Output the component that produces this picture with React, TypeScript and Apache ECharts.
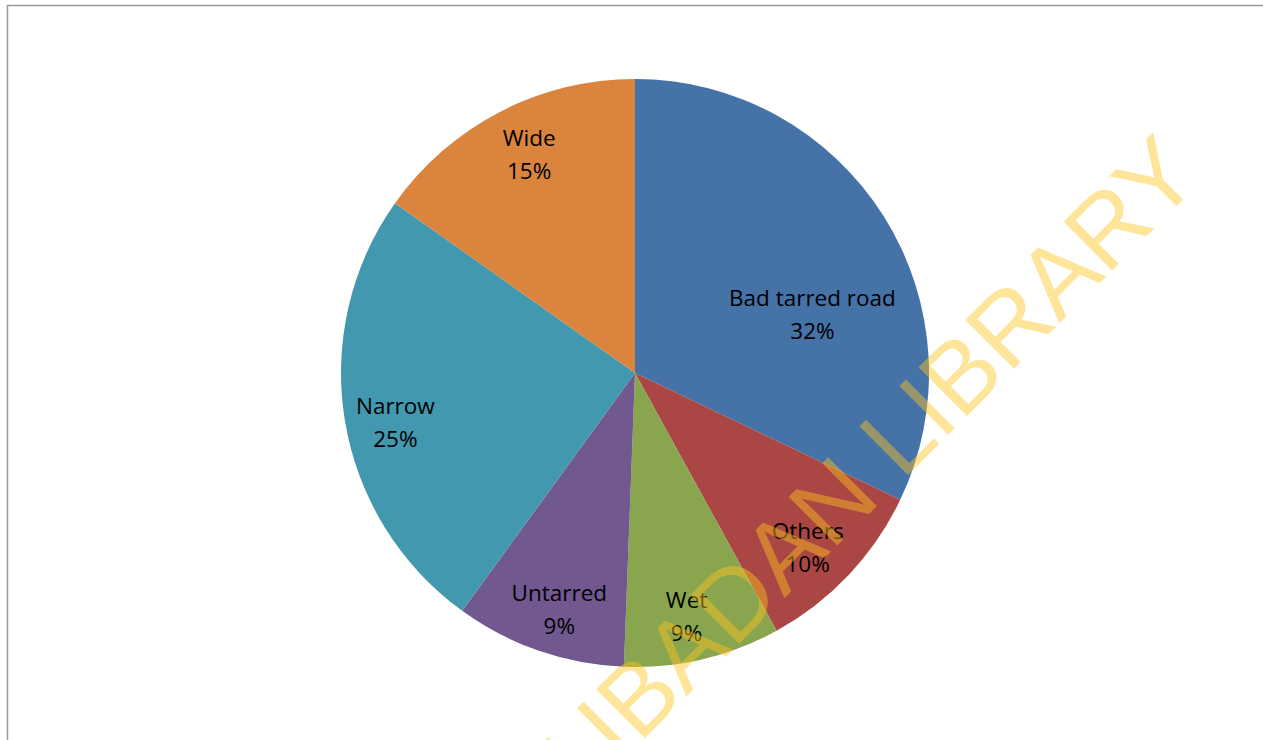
import React, { useEffect, useRef } from "react";
import * as echarts from "echarts";

const categories = ["Bad tarred road", "Others", "Wet", "Untarred", "Narrow", "Wide"];
const values = [32.1, 9.9, 8.6, 9.4, 24.8, 15.2];
const colors = ["#4572A7", "#AA4643", "#89A54E", "#71588F", "#4198AF", "#DB843D"];
const watermark = "UNIVERSITY OF IBADAN LIBRARY";

export default function App() {
  const ref = useRef<HTMLDivElement>(null);
  useEffect(() => {
    if (!ref.current) return;
    const chart = echarts.init(ref.current, null, { renderer: "svg" });
    const R = 294;
    const center = [635, 373];
    const labelOffsets: Record<string, number[]> = {
      "Bad tarred road": [-34, 74],
      Others: [-9, 2],
      Wet: [-6, 0],
      Untarred: [6, 0],
      Narrow: [7, 8],
      Wide: [9, 3],
    };
    chart.setOption({
      animation: false,
      backgroundColor: "#ffffff",
      graphic: [
        {
          type: "rect",
          left: 5,
          top: 3,
          shape: { width: 1300, height: 800 },
          style: { fill: "none", stroke: "#9a9a9a", lineWidth: 1.5 },
          z: 0,
        },
        {
          type: "text",
          x: 1214,
          y: 190,
          rotation: Math.PI / 4,
          z: 100,
          silent: true,
          style: {
            text: watermark,
            x: 0,
            y: 0,
            align: "right",
            verticalAlign: "bottom",
            fontFamily: "Liberation Sans",
            fontSize: 100,
            fill: "rgba(255,198,30,0.45)",
          },
        },
      ],
      series: [
        {
          type: "pie",
          center,
          radius: [0, R],
          startAngle: 90,
          clockwise: true,
          silent: true,
          label: { show: false },
          labelLine: { show: false },
          data: categories.map((name, i) => ({
            name,
            value: values[i],
            itemStyle: { color: colors[i] },
          })),
        },
        {
          type: "pie",
          center,
          radius: [R * 0.68, R],
          startAngle: 90,
          clockwise: true,
          silent: true,
          z: 3,
          itemStyle: { color: "rgba(0,0,0,0)", borderWidth: 0 },
          labelLine: { show: false },
          label: {
            show: true,
            position: "inside",
            color: "#000000",
            fontFamily: "Open Sans",
            fontSize: 22.5,
            lineHeight: 33,
            align: "center",
            formatter: (p: any) => `${p.name}\n${Math.round(p.percent)}%`,
          },
          data: categories.map((name, i) => ({
            name,
            value: values[i],
            label: { offset: labelOffsets[name] },
          })),
        },
      ],
    });
    return () => chart.dispose();
  }, []);
  return (
    <div
      ref={ref}
      style={{ position: "fixed", left: 0, top: 0, width: 1263, height: 740 }}
    />
  );
}
